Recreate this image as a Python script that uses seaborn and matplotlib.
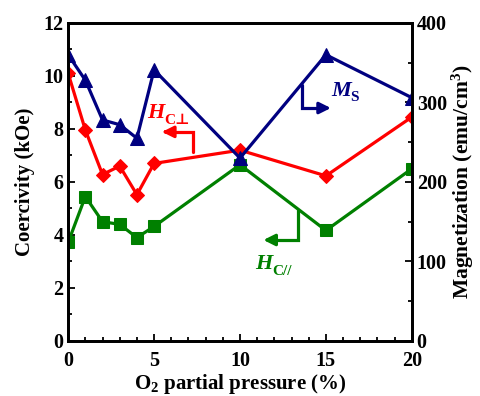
import matplotlib
matplotlib.use("Agg")
import matplotlib.pyplot as plt
from matplotlib.ticker import MultipleLocator
import seaborn as sns
import pandas as pd

sns.set_theme(style="white")
plt.rcParams["font.family"] = ["Liberation Serif", "DejaVu Serif"]
plt.rcParams["font.weight"] = "bold"
plt.rcParams["text.color"] = "black"
plt.rcParams["axes.labelcolor"] = "black"
plt.rcParams["xtick.color"] = "black"
plt.rcParams["ytick.color"] = "black"
plt.rcParams["mathtext.fontset"] = "custom"
plt.rcParams["mathtext.rm"] = "Liberation Serif:bold"
plt.rcParams["mathtext.it"] = "Liberation Serif:italic:bold"
plt.rcParams["mathtext.bf"] = "Liberation Serif:bold"

# O2 partial pressure (%)
pressure = [0, 1, 2, 3, 4, 5, 10, 15, 20]
# Coercivity, perpendicular (kOe)
hc_perp = [10.1, 7.96, 6.28, 6.6, 5.52, 6.7, 7.2, 6.23, 8.45]
# Coercivity, in-plane (kOe)
hc_par = [3.72, 5.45, 4.5, 4.4, 3.9, 4.32, 6.65, 4.17, 6.5]
# Saturation magnetization (emu/cm3)
ms = [360, 328, 278, 272, 255, 341, 230, 360, 306]

RED = "#ff0000"
GREEN = "#008000"
NAVY = "#000080"

df = pd.DataFrame({"p": pressure, "perp": hc_perp, "par": hc_par, "ms": ms})

fig = plt.figure(figsize=(4.8, 3.96), dpi=100)
ax = fig.add_axes([0.142, 0.139, 0.716, 0.803])
ax2 = ax.twinx()

sns.lineplot(data=df, x="p", y="par", ax=ax, color=GREEN, marker="s",
             markersize=8, markeredgecolor=GREEN, linewidth=2.3)
sns.lineplot(data=df, x="p", y="perp", ax=ax, color=RED, marker="D",
             markersize=7.5, markeredgecolor=RED, linewidth=2.3)
sns.lineplot(data=df, x="p", y="ms", ax=ax2, color=NAVY, marker="^",
             markersize=10, markeredgecolor=NAVY, linewidth=2.3)

ax.set_xlim(0, 20)
ax.set_ylim(0, 12)
ax2.set_ylim(0, 400)
ax.xaxis.set_major_locator(MultipleLocator(5))
ax.xaxis.set_minor_locator(MultipleLocator(1))
ax.yaxis.set_major_locator(MultipleLocator(2))
ax.yaxis.set_minor_locator(MultipleLocator(1))
ax2.yaxis.set_major_locator(MultipleLocator(100))
ax2.yaxis.set_minor_locator(MultipleLocator(50))

for a in (ax, ax2):
    a.tick_params(which="both", direction="in", colors="black",
                  labelsize=14.5, width=1.3)
    a.tick_params(which="major", length=5)
    a.tick_params(which="minor", length=3)
    for s in a.spines.values():
        s.set_color("black")
        s.set_linewidth(2.0)
ax.tick_params(axis="x", which="both", bottom=True, top=False, pad=7)
ax.tick_params(axis="y", which="both", left=True, right=False)
ax2.tick_params(axis="y", which="both", right=True, left=False)

for lab in ax.get_xticklabels() + ax.get_yticklabels() + ax2.get_yticklabels():
    lab.set_fontweight("bold")

ax.set_xlabel("O$_2$ partial pressure (%)", fontsize=15, fontweight="bold", labelpad=1)
ax.set_ylabel("Coercivity (kOe)", fontsize=15, fontweight="bold", labelpad=6)
ax2.set_ylabel("Magnetization (emu/cm$^3$)", fontsize=15.5, fontweight="bold", labelpad=2)


def series_label(axis, x, y, main, sub, color, sub_dx=12):
    """Italic symbol with an upright subscript."""
    t = axis.text(x, y, main, color=color, fontsize=16, style="italic",
                  fontweight="bold", ha="left", va="center")
    axis.annotate(sub, xy=(x, y), xycoords="data", xytext=(sub_dx, -5),
                  textcoords="offset points", color=color, fontsize=11,
                  fontweight="bold", ha="left", va="center",
                  family=["Liberation Serif", "DejaVu Serif", "DejaVu Sans"])
    return t


# Series labels with bracket arrows pointing to their axis
ax.plot([7.27, 7.27, 5.9], [7.13, 7.89, 7.89], color=RED, lw=2.3, solid_joinstyle="miter")
ax.annotate("", xy=(5.3, 7.89), xytext=(6.0, 7.89),
            arrowprops=dict(arrowstyle="-|>", color=RED, lw=2.3, mutation_scale=17))
series_label(ax, 4.6, 8.6, "H", "C\u22a5", RED)

ax.plot([13.37, 13.37, 11.9], [4.94, 3.81, 3.81], color=GREEN, lw=2.3, solid_joinstyle="miter")
ax.annotate("", xy=(11.2, 3.81), xytext=(12.0, 3.81),
            arrowprops=dict(arrowstyle="-|>", color=GREEN, lw=2.3, mutation_scale=17))
series_label(ax, 10.9, 2.9, "H", "C//", GREEN)

ax2.plot([13.6, 13.6, 14.8], [322, 293, 293], color=NAVY, lw=2.3, solid_joinstyle="miter")
ax2.annotate("", xy=(15.45, 293), xytext=(14.7, 293),
             arrowprops=dict(arrowstyle="-|>", color=NAVY, lw=2.3, mutation_scale=17))
series_label(ax2, 15.3, 315, "M", "S", NAVY, sub_dx=14)

ax.set_facecolor("white")
fig.savefig("out.png", dpi=100, facecolor="white")
